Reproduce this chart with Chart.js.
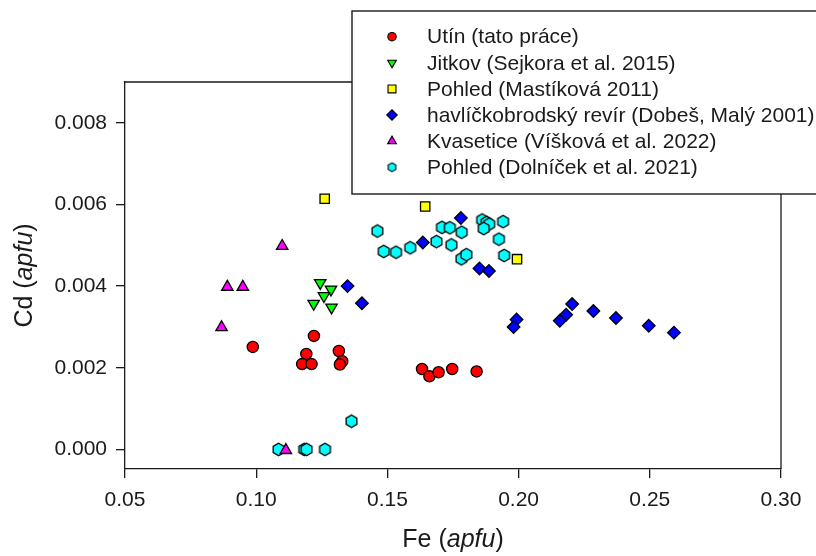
<!DOCTYPE html>
<html>
<head>
<meta charset="utf-8">
<script src="https://cdn.jsdelivr.net/npm/chart.js@4/dist/chart.umd.min.js"></script>
<style>
  html, body { margin: 0; padding: 0; background: #fff; }
  #wrap { width: 816px; height: 556px; position: relative; }
</style>
</head>
<body>
<div id="wrap"><canvas id="c"></canvas></div>
<script>
// Fe vs Cd (apfu) in sphalerite-type analyses
const utinFe = [0.0987, 0.1220, 0.1191, 0.1175, 0.1211, 0.1315, 0.1328, 0.1319, 0.1632, 0.1660, 0.1695, 0.1747, 0.1840];
const utinCd = [0.00251, 0.00278, 0.00234, 0.00209, 0.00209, 0.00241, 0.00216, 0.00208, 0.00197, 0.00179, 0.00189, 0.00197, 0.00191];

const jitkovFe = [0.1244, 0.1285, 0.1258, 0.1219, 0.1287];
const jitkovCd = [0.00408, 0.00392, 0.00376, 0.00357, 0.00348];

const mastikovaFe = [0.1261, 0.1644, 0.1994];
const mastikovaCd = [0.00614, 0.00595, 0.00466];

const havlFe = [0.1780, 0.1635, 0.1851, 0.1887, 0.1348, 0.1403, 0.1992, 0.1981, 0.2204, 0.2181, 0.2157, 0.2285, 0.2371, 0.2496, 0.2592];
const havlCd = [0.00567, 0.00507, 0.00443, 0.00437, 0.00400, 0.00358, 0.00318, 0.00300, 0.00356, 0.00330, 0.00315, 0.00339, 0.00322, 0.00303, 0.00286];

const kvaseticeFe = [0.1099, 0.0890, 0.0949, 0.0868, 0.1113];
const kvaseticeCd = [0.00498, 0.00398, 0.00398, 0.00299, -0.00002];

const dolnicekFe = [0.1462, 0.1486, 0.1533, 0.1587, 0.1687, 0.1708, 0.1738, 0.1783, 0.1744, 0.1782, 0.1801, 0.1861, 0.1878, 0.1888, 0.1867, 0.1941, 0.1925, 0.1945, 0.1363, 0.1085, 0.1183, 0.1192, 0.1262];
const dolnicekCd = [0.00535, 0.00485, 0.00483, 0.00494, 0.00509, 0.00544, 0.00543, 0.00532, 0.00501, 0.00467, 0.00477, 0.00562, 0.00556, 0.00552, 0.00541, 0.00558, 0.00515, 0.00475, 0.00069, 0, 0, 0, 0];

const xTicks = [0.05, 0.10, 0.15, 0.20, 0.25, 0.30];
const yTicks = [0.000, 0.002, 0.004, 0.006, 0.008];

const seriesLabels = [
  "Utín (tato práce)",
  "Jitkov (Sejkora et al. 2015)",
  "Pohled (Mastíková 2011)",
  "havlíčkobrodský revír (Dobeš, Malý 2001)",
  "Kvasetice (Víšková et al. 2022)",
  "Pohled (Dolníček et al. 2021)",
];

const FONT = '"Liberation Sans", Arial, sans-serif';
const INK = "#1a1a1a";

// Chart.js has no hexagon, so build one as an image point style
function hexagon(r, lw) {
  const s = Math.ceil(2 * r + lw * 2 + 2);
  const cv = document.createElement("canvas");
  cv.width = s; cv.height = s;
  const g = cv.getContext("2d");
  g.beginPath();
  for (let i = 0; i < 6; i++) {
    const a = -Math.PI / 2 + i * Math.PI / 3;
    const px = s / 2 + r * Math.cos(a), py = s / 2 + r * Math.sin(a);
    i ? g.lineTo(px, py) : g.moveTo(px, py);
  }
  g.closePath();
  g.fillStyle = "#00ffff"; g.fill();
  g.lineWidth = lw; g.strokeStyle = "#000"; g.stroke();
  return cv;
}
const hexBig = hexagon(6.2, 1.3);
const hexSmall = hexagon(4.4, 1.1);

const pts = (xs, ys) => xs.map((x, i) => ({ x: x, y: ys[i] }));

const styles = [
  { color: "#ff0000", style: "circle", r: 5.6, lr: 4.2, rot: 0 },
  { color: "#00ff00", style: "triangle", r: 6.6, lr: 5, rot: 180 },
  { color: "#ffff00", style: "rect", r: 6.6, lr: 5.6, rot: 0 },
  { color: "#0000ff", style: "rectRot", r: 6.3, lr: 5.2, rot: 0 },
  { color: "#ff00ff", style: "triangle", r: 6.6, lr: 5, rot: 0 },
  { color: "#00ffff", style: hexBig, small: hexSmall, r: 6.2, lr: 4.4, rot: 0 },
];
const values = [
  pts(utinFe, utinCd), pts(jitkovFe, jitkovCd), pts(mastikovaFe, mastikovaCd),
  pts(havlFe, havlCd), pts(kvaseticeFe, kvaseticeCd), pts(dolnicekFe, dolnicekCd),
];

// draw "Fe (" + italic "apfu" + ")" centred on (0,0)
function mixedTitle(ctx, head, size) {
  const parts = [[head + " (", ""], ["apfu", "italic "], [")", ""]];
  let w = 0;
  parts.forEach(p => { ctx.font = p[1] + size + "px " + FONT; w += ctx.measureText(p[0]).width; });
  let x = -w / 2;
  ctx.textBaseline = "middle"; ctx.textAlign = "left"; ctx.fillStyle = INK;
  parts.forEach(p => { ctx.font = p[1] + size + "px " + FONT; ctx.fillText(p[0], x, 0); x += ctx.measureText(p[0]).width; });
}

const decor = {
  id: "decor",
  afterDraw(chart) {
    const ctx = chart.ctx, a = chart.chartArea;
    ctx.save();
    // top and right frame lines
    ctx.strokeStyle = INK; ctx.lineWidth = 1.3;
    ctx.beginPath();
    ctx.moveTo(a.left, a.top); ctx.lineTo(a.right, a.top); ctx.lineTo(a.right, a.bottom);
    ctx.stroke();

    // axis titles
    ctx.save(); ctx.translate((a.left + a.right) / 2, 540); mixedTitle(ctx, "Fe", 25); ctx.restore();
    ctx.save(); ctx.translate(25, (a.top + a.bottom) / 2); ctx.rotate(-Math.PI / 2); mixedTitle(ctx, "Cd", 25); ctx.restore();

    // legend box
    ctx.fillStyle = "#fff";
    ctx.fillRect(352, 11, 480, 183);
    ctx.strokeStyle = INK; ctx.lineWidth = 1.4;
    ctx.strokeRect(352, 11, 480, 183);
    seriesLabels.forEach((lab, i) => {
      const s = styles[i], y = 36.7 + i * 26.1;
      ctx.fillStyle = s.color; ctx.strokeStyle = "#000"; ctx.lineWidth = 1.1;
      Chart.helpers.drawPoint(ctx, { pointStyle: s.small || s.style, rotation: s.rot, radius: s.lr, borderWidth: 1.1 }, 392, y);
      ctx.fillStyle = INK; ctx.font = "21px " + FONT;
      ctx.textAlign = "left"; ctx.textBaseline = "middle";
      ctx.fillText(lab, 427, y + 1);
    });
    ctx.restore();
  },
};

new Chart(document.getElementById("c"), {
  type: "scatter",
  data: {
    datasets: values.map((d, i) => ({
      label: seriesLabels[i],
      data: d,
      pointStyle: styles[i].style,
      pointRotation: styles[i].rot,
      pointRadius: styles[i].r,
      pointHoverRadius: styles[i].r,
      backgroundColor: styles[i].color,
      borderColor: "#000",
      borderWidth: 1.3,
    })),
  },
  options: {
    responsive: true, maintainAspectRatio: false, animation: false,
    layout: { padding: { top: 82, right: 35, left: 0, bottom: 0 } },
    plugins: { legend: { display: false }, tooltip: { enabled: false } },
    scales: {
      x: {
        type: "linear", min: 0.05, max: 0.30,
        afterBuildTicks: s => { s.ticks = xTicks.map(v => ({ value: v })); },
        afterFit: s => { s.height = 87; },
        ticks: { color: INK, font: { size: 21, family: FONT }, padding: 10, maxRotation: 0,
                 callback: v => v.toFixed(2) },
        grid: { drawOnChartArea: false, tickLength: 9, color: INK, lineWidth: 1.3 },
        border: { color: INK, width: 1.3 },
      },
      y: {
        type: "linear", min: -0.00048, max: 0.009,
        afterBuildTicks: s => { s.ticks = yTicks.map(v => ({ value: v })); },
        afterFit: s => { s.width = 125; },
        ticks: { color: INK, font: { size: 21, family: FONT }, padding: 9,
                 callback: v => v.toFixed(3) },
        grid: { drawOnChartArea: false, tickLength: 9, color: INK, lineWidth: 1.3 },
        border: { color: INK, width: 1.3 },
      },
    },
  },
  plugins: [decor],
});
</script>
</body>
</html>
